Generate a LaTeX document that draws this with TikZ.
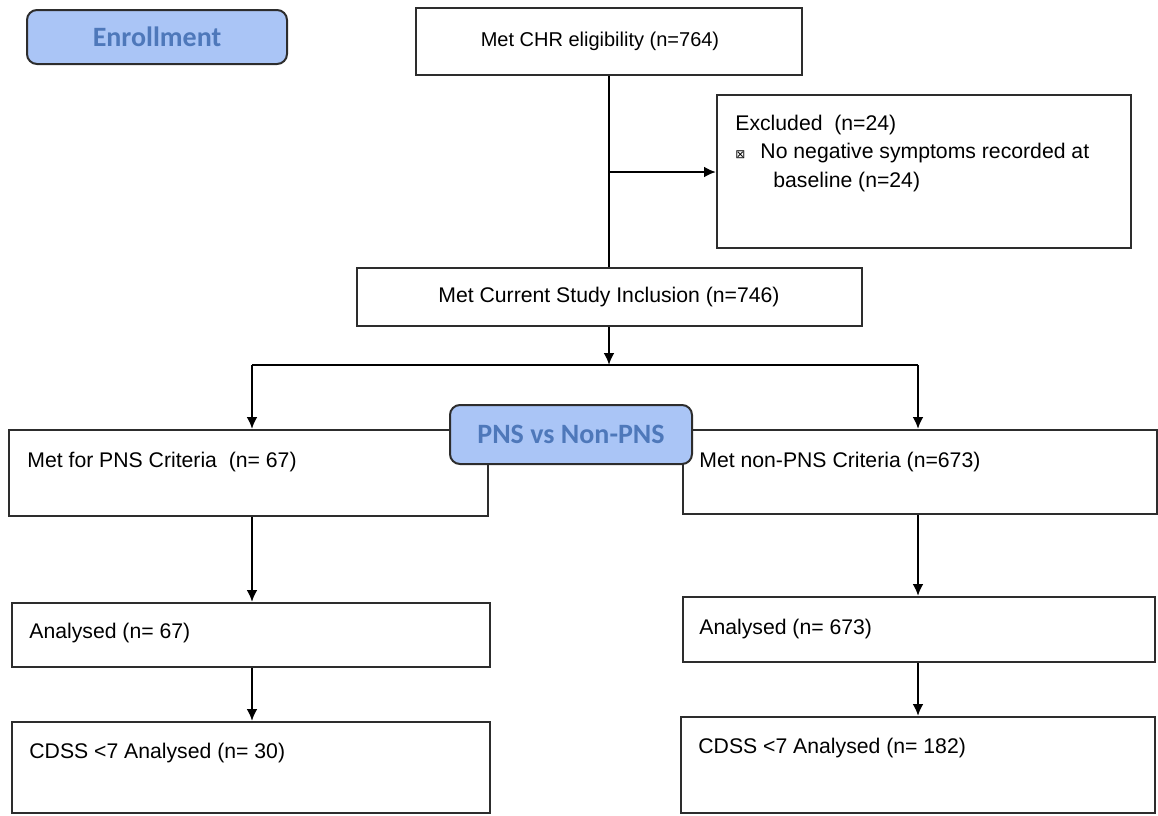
\documentclass[tikz,border=0pt]{standalone}
\usepackage{fontspec}
\setmainfont{Liberation Sans}
\newfontfamily\calfont{Carlito}
\newfontfamily\symfont{DejaVu Sans}
\usepackage{xcolor}
\usepackage{tikz}
\usetikzlibrary{calc, arrows.meta, positioning}

\definecolor{phasefill}{RGB}{170,197,246}
\definecolor{phasetext}{RGB}{78,120,186}
\definecolor{boxline}{RGB}{45,45,45}

\tikzset{
    flowbox/.style={draw=boxline, line width=1pt, fill=white, rectangle, inner sep=0pt},
    phasebox/.style={draw=boxline, line width=1pt, fill=phasefill, rounded corners=5pt,
        inner sep=0pt, text=phasetext, font=\calfont\bfseries\fontsize{14}{16}\selectfont},
    boxtext/.style={anchor=west, inner sep=0pt, font=\fontsize{10.6}{14.5}\selectfont},
    flowarrow/.style={->, line width=1.2pt},
    flowline/.style={line width=1.2pt}
}

\begin{document}
\begin{tikzpicture}[x=0.5pt, y=-0.5pt, >={Latex[length=6pt, width=5.5pt]}]
    \useasboundingbox (0,0) rectangle (1158,815);

    % Các hộp chính
    \node[flowbox, minimum width=193pt, minimum height=33.5pt] (chr) at (609,41.5) {};
    \node[flowbox, minimum width=207pt, minimum height=76.5pt] (excl) at (924,171.5) {};
    \node[flowbox, minimum width=252.5pt, minimum height=29pt] (incl) at (609,297) {};
    \node[flowbox, minimum width=239.5pt, minimum height=43pt] (critA) at (248.5,473) {};
    \node[flowbox, minimum width=237pt, minimum height=42pt] (critB) at (920,472) {};
    \node[flowbox, minimum width=239pt, minimum height=32pt] (anaA) at (251,635) {};
    \node[flowbox, minimum width=236pt, minimum height=32.5pt] (anaB) at (919,629.5) {};
    \node[flowbox, minimum width=239pt, minimum height=45.5pt] (cdssA) at (251,767.5) {};
    \node[flowbox, minimum width=237pt, minimum height=48pt] (cdssB) at (918,765) {};

    % Nhãn giai đoạn
    \node[phasebox, minimum width=130pt, minimum height=27pt] (enroll) at (157,37) {Enrollment};
    \node[phasebox, minimum width=121pt, minimum height=29.5pt] (group) at (571,434.5) {PNS vs Non-PNS};

    % Nội dung
    \node[boxtext, anchor=center, font=\fontsize{10}{12}\selectfont] (chrtxt) at (600,41) {Met CHR eligibility (n=764)};
    \node[boxtext, anchor=north west, align=left] (excltxt) at (735,115)
        {Excluded\ \ (n=24)\\[-0.5pt]
         {\symfont\fontsize{6}{8}\selectfont ⊠}\hspace{7.5pt}No negative symptoms recorded at\\
         \hspace{19pt}baseline (n=24)};
    \node[boxtext, anchor=center] (incltxt) at (609,297) {Met Current Study Inclusion (n=746)};
    \node[boxtext] (critAtxt) at (27,462) {Met for PNS Criteria\ \ (n= 67)};
    \node[boxtext] (critBtxt) at (699,462) {Met non-PNS Criteria (n=673)};
    \node[boxtext] (anaAtxt) at (29,633) {Analysed (n= 67)};
    \node[boxtext] (anaBtxt) at (699,629) {Analysed (n= 673)};
    \node[boxtext] (cdssAtxt) at (29,753) {CDSS <7 Analysed (n= 30)};
    \node[boxtext] (cdssBtxt) at (698,748) {CDSS <7 Analysed (n= 182)};

    % Mũi tên
    \coordinate (split) at (609,172);
    \coordinate (fork) at (609,365);
    \coordinate (forkA) at (252,365);
    \coordinate (forkB) at (918,365);
    \draw[flowline] (chr.south) -- (incl.north);
    \draw[flowarrow] (split) -- (excl.west |- split);
    \draw[flowarrow] (incl.south) -- (fork);
    \draw[flowline] (forkA) -- (forkB);
    \draw[flowarrow] (forkA) -- (forkA |- critA.north);
    \draw[flowarrow] (forkB) -- (forkB |- critB.north);
    \draw[flowarrow] (forkA |- critA.south) -- (forkA |- anaA.north);
    \draw[flowarrow] (forkB |- critB.south) -- (forkB |- anaB.north);
    \draw[flowarrow] (forkA |- anaA.south) -- (forkA |- cdssA.north);
    \draw[flowarrow] (forkB |- anaB.south) -- (forkB |- cdssB.north);
\end{tikzpicture}
\end{document}
